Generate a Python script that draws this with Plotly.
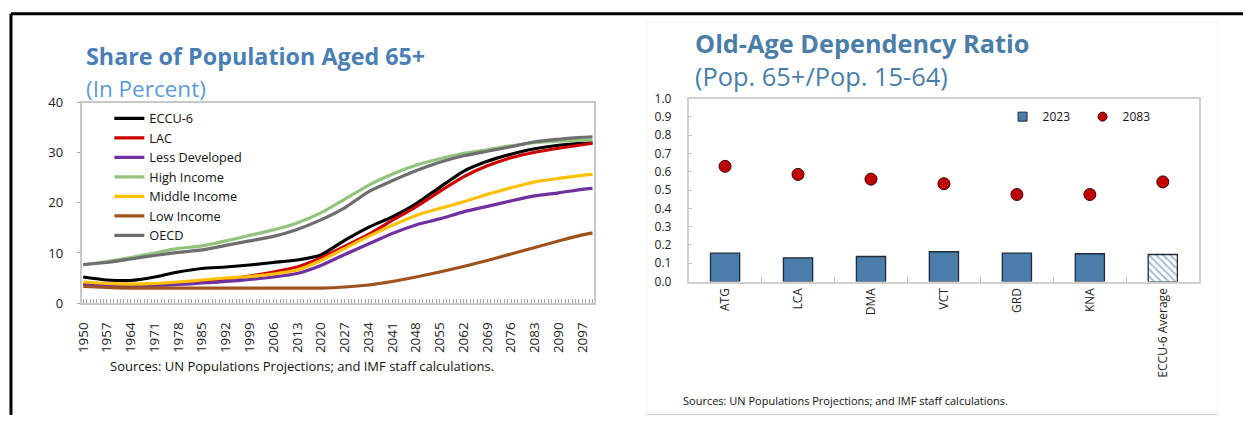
import plotly.graph_objects as go

W, H = 1243, 424

# ---------------- Left chart data ----------------
years = [1950, 1957, 1964, 1971, 1978, 1985, 1992, 1999, 2006, 2013, 2020, 2027,
         2034, 2041, 2048, 2055, 2062, 2069, 2076, 2083, 2090, 2097, 2100]
eccu6 = [5.2, 4.6, 4.5, 5.2, 6.2, 6.9, 7.2, 7.6, 8.1, 8.6, 9.6, 12.5,
         15.1, 17.2, 19.8, 23.1, 26.3, 28.3, 29.7, 30.8, 31.5, 31.9, 32.0]
lac = [3.8, 3.6, 3.6, 3.8, 4.1, 4.4, 4.8, 5.4, 6.2, 7.2, 9.0, 11.3,
       13.7, 16.5, 19.2, 22.3, 25.2, 27.4, 29.0, 30.1, 30.9, 31.6, 31.9]
less_dev = [3.7, 3.5, 3.4, 3.5, 3.7, 4.0, 4.3, 4.7, 5.2, 5.9, 7.5, 9.7,
            11.8, 13.9, 15.6, 16.8, 18.2, 19.3, 20.4, 21.4, 22.0, 22.7, 22.9]
high_inc = [7.6, 8.3, 9.1, 10.0, 10.9, 11.4, 12.4, 13.5, 14.6, 16.0, 18.0, 20.7,
            23.5, 25.7, 27.5, 28.8, 29.9, 30.6, 31.4, 32.0, 32.3, 32.5, 32.6]
mid_inc = [4.2, 3.9, 3.8, 3.9, 4.2, 4.6, 5.0, 5.3, 5.8, 6.6, 8.5, 10.9,
           13.3, 15.5, 17.5, 18.9, 20.2, 21.7, 23.0, 24.2, 24.9, 25.5, 25.7]
low_inc = [3.3, 3.1, 3.0, 3.0, 3.0, 3.0, 3.0, 3.0, 3.0, 3.0, 3.0, 3.2,
           3.6, 4.3, 5.2, 6.2, 7.3, 8.5, 9.8, 11.1, 12.4, 13.6, 14.0]
oecd = [7.7, 8.1, 8.8, 9.5, 10.1, 10.6, 11.5, 12.4, 13.3, 14.7, 16.6, 19.0,
        22.2, 24.4, 26.4, 28.1, 29.4, 30.3, 31.2, 32.2, 32.7, 33.1, 33.2]
year_ticks = list(range(1950, 2100, 7))

series_names = ["ECCU-6", "LAC", "Less Developed", "High Income",
                "Middle Income", "Low Income", "OECD"]
series_vals = [eccu6, lac, less_dev, high_inc, mid_inc, low_inc, oecd]
series_colors = ["#000000", "#cc0000", "#7030a0", "#93c47d",
                 "#ffc000", "#a0521e", "#6e6e6e"]

# ---------------- Right chart data ----------------
countries = ["ATG", "LCA", "DMA", "VCT", "GRD", "KNA", "ECCU-6 Average"]
ratio_2023 = [0.155, 0.130, 0.137, 0.163, 0.155, 0.152, 0.148]
ratio_2083 = [0.630, 0.586, 0.560, 0.535, 0.476, 0.476, 0.545]

BAR_BLUE = "#4b7dab"
DOT_RED = "#c00000"

# page-to-photo correction (measured): photo_x = 5 + x, photo_y = 8.3 + 0.958*y
OX, OY, SY = 5.0, 8.3, 0.958


def px_x(p):
    return (p - OX) / W


def px_y(p):
    return min(1.0, max(0.0, 1 - ((p - OY) / SY) / H))


fig = go.Figure()

for i in range(len(series_names)):
    fig.add_trace(go.Scatter(
        x=years, y=series_vals[i], name=series_names[i], mode="lines",
        line=dict(color=series_colors[i], width=3.2, shape="spline", smoothing=0.6),
        xaxis="x", yaxis="y", legend="legend",
    ))

bar_colors = [BAR_BLUE] * 6 + ["#9dbbd6"]
bar_shapes = [""] * 6 + ["\\"]
fig.add_trace(go.Bar(
    x=countries, y=ratio_2023, name="2023", width=0.4, showlegend=False,
    marker=dict(color=bar_colors, line=dict(color="#1d2b3a", width=1.3),
                pattern=dict(shape=bar_shapes, fillmode="replace",
                             bgcolor="#ffffff", size=5, solidity=0.35)),
    xaxis="x2", yaxis="y2",
))
fig.add_trace(go.Scatter(
    x=countries, y=ratio_2083, name="2083", mode="markers", showlegend=False,
    marker=dict(color=DOT_RED, size=12, line=dict(color="#3a0000", width=1)),
    xaxis="x2", yaxis="y2",
))
# legend-only entries (smaller symbols, like the original legend)
fig.add_trace(go.Scatter(
    x=[None], y=[None], name="2023", mode="markers",
    marker=dict(symbol="square", color=BAR_BLUE, size=9, line=dict(color="#1d2b3a", width=1)),
    xaxis="x2", yaxis="y2", legend="legend2",
))
fig.add_trace(go.Scatter(
    x=[None], y=[None], name="2083", mode="markers",
    marker=dict(symbol="circle", color=DOT_RED, size=9, line=dict(color="#3a0000", width=1)),
    xaxis="x2", yaxis="y2", legend="legend2",
))

tick_font = dict(family="Open Sans", size=12, color="#222222")
grey_line = "#c8c8c8"

fig.update_layout(
    width=W, height=H,
    margin=dict(l=0, r=0, t=0, b=0),
    paper_bgcolor="white", plot_bgcolor="white",
    showlegend=True,
    xaxis=dict(
        domain=[px_x(79), px_x(595)], anchor="y",
        range=[1949.5, 2100.5], tickmode="array", tickvals=year_ticks,
        ticktext=[str(y) for y in year_ticks], tickangle=-90,
        ticks="inside", ticklen=4, tickcolor="#a6a6a6", ticklabelstandoff=12,
        minor=dict(dtick=1, tick0=1950, ticks="inside", ticklen=4, tickcolor="#a6a6a6"),
        showline=True, linecolor=grey_line, linewidth=1.5, mirror=True,
        showgrid=False, zeroline=False, tickfont=dict(family="Open Sans", size=13.5, color="#222222"),
    ),
    yaxis=dict(
        domain=[px_y(302.5), px_y(102)], anchor="x",
        range=[0, 40], dtick=10, ticks="outside", ticklen=3, tickcolor="#a6a6a6",
        ticklabelstandoff=11,
        showline=True, linecolor=grey_line, linewidth=1.5, mirror=True,
        showgrid=False, zeroline=False, tickfont=dict(family="Open Sans", size=13, color="#222222"),
    ),
    xaxis2=dict(
        domain=[px_x(690), px_x(1204)], anchor="y2",
        tickangle=-90, ticks="inside", ticklen=5, tickcolor="#bfbfbf",
        tickson="boundaries", ticklabelstandoff=0,
        showline=True, linecolor="#d0d0d0", linewidth=1.5, mirror=True,
        showgrid=False, zeroline=False, tickfont=tick_font,
    ),
    yaxis2=dict(
        domain=[px_y(281), px_y(98)], anchor="x2",
        range=[0, 1.0], dtick=0.1, tickformat=".1f",
        ticks="inside", ticklen=4, tickcolor="#bfbfbf", ticklabelstandoff=13,
        showline=True, linecolor="#d0d0d0", linewidth=1.5, mirror=True,
        showgrid=False, zeroline=False, tickfont=tick_font,
    ),
    legend=dict(
        x=px_x(107), y=px_y(103), xanchor="left", yanchor="top",
        bgcolor="rgba(0,0,0,0)", font=dict(family="Open Sans", size=12.7, color="#111111"),
        itemwidth=30, tracegroupgap=0,
    ),
    legend2=dict(
        x=px_x(1006), y=px_y(101.5), xanchor="left", yanchor="top",
        orientation="h", entrywidth=35, entrywidthmode="pixels",
        bgcolor="rgba(0,0,0,0)", font=dict(family="Open Sans", size=12, color="#111111"),
        itemwidth=30,
    ),
    bargap=0.6,
)

ann = [
    dict(text="<b>Share of Population Aged 65+</b>", x=px_x(81), y=px_y(55),
         font=dict(family="Open Sans", size=23.3, color="#4a7fb5")),
    dict(text="(In Percent)", x=px_x(81), y=px_y(88),
         font=dict(family="Open Sans", size=22.5, color="#5b9bd5")),
    dict(text="<b>Old-Age Dependency Ratio</b>", x=px_x(694), y=px_y(42),
         font=dict(family="Open Sans", size=25.3, color="#4a7ea8")),
    dict(text="(Pop. 65+/Pop. 15-64)", x=px_x(694), y=px_y(75),
         font=dict(family="Open Sans", size=25.4, color="#4a7ea8")),
    dict(text="Sources: UN Populations Projections; and IMF staff calculations.",
         x=px_x(106), y=px_y(365),
         font=dict(family="Open Sans", size=13, color="#111111")),
    dict(text="Sources: UN Populations Projections; and IMF staff calculations.",
         x=px_x(682), y=px_y(400),
         font=dict(family="Open Sans", size=11, color="#111111")),
]
for a in ann:
    a.update(xref="paper", yref="paper", xanchor="left", yanchor="middle", showarrow=False)
fig.update_layout(annotations=ann)

shapes = [
    dict(type="line", xref="paper", yref="paper", x0=px_x(8), x1=1, y0=px_y(13), y1=px_y(13),
         line=dict(color="black", width=3)),
    dict(type="line", xref="paper", yref="paper", x0=px_x(8), x1=px_x(8), y0=px_y(13), y1=0,
         line=dict(color="black", width=3)),
    dict(type="rect", xref="paper", yref="paper", x0=px_x(648), x1=px_x(1222), y0=px_y(414), y1=px_y(22),
         line=dict(color="#f2f2f2", width=1)),
    dict(type="line", xref="paper", yref="paper", x0=px_x(648), x1=px_x(1222), y0=px_y(414), y1=px_y(414),
         line=dict(color="#c8c8c8", width=1)),
]
fig.update_layout(shapes=shapes)

fig.write_html(
    "out.html",
    config={"displayModeBar": False},
    post_script=(
        "document.documentElement.style.margin='0';"
        "document.body.style.margin='0';"
        "document.body.style.overflow='hidden';"
        "var d=document.querySelector('.plotly-graph-div');"
        "d.style.position='fixed';d.style.left='0px';d.style.top='0px';"
    ),
)
